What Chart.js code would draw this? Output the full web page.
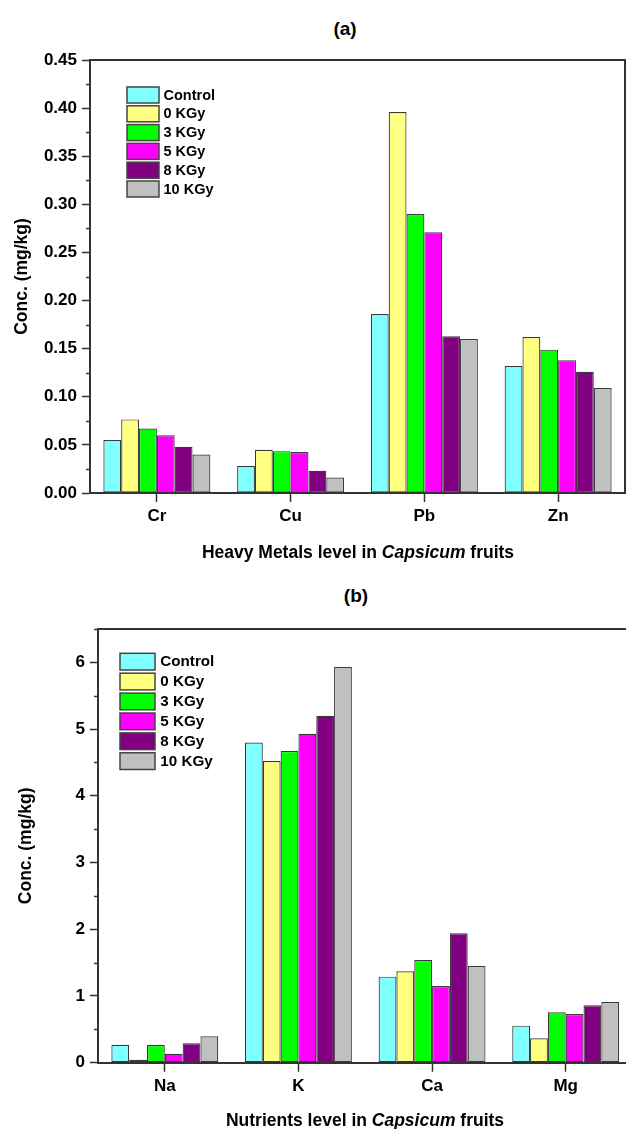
<!DOCTYPE html>
<html>
<head>
<meta charset="utf-8">
<script src="https://cdn.jsdelivr.net/npm/chart.js@4.4.1/dist/chart.umd.min.js"></script>
<style>
  html, body { margin: 0; padding: 0; background: #fff; }
  body { width: 626px; height: 1129px; overflow: hidden; position: relative; font-family: 'Liberation Sans', Arial, sans-serif; }
  canvas { position: absolute; left: 0; }
  .lbl { position: absolute; transform: translate(-50%, -50%); white-space: nowrap; font-weight: bold; color: #000; }
</style>
</head>
<body>
<div class="lbl" style="left:345px; top:29px; font-size:19px;">(a)</div>
<canvas id="ca" width="626" height="570" style="top:0; width:626px; height:570px;"></canvas>
<div class="lbl" style="left:358px; top:552px; font-size:17.5px;">Heavy Metals level in <i>Capsicum</i> fruits</div>
<div class="lbl" style="left:356px; top:596px; font-size:19px;">(b)</div>
<canvas id="cb" width="640" height="569" style="top:560px; width:640px; height:569px;"></canvas>
<div class="lbl" style="left:365px; top:1120px; font-size:17.5px;">Nutrients level in <i>Capsicum</i> fruits</div>
<script>
// ---- data ----
const seriesLabels = ['Control', '0 KGy', '3 KGy', '5 KGy', '8 KGy', '10 KGy'];
const seriesColors = ['#80FFFF', '#FFFF80', '#00FF00', '#FF00FF', '#800080', '#C0C0C0'];

const metalCategories = ['Cr', 'Cu', 'Pb', 'Zn'];
const metalControl = [0.055, 0.028, 0.186, 0.132];
const metal0 = [0.0765, 0.045, 0.396, 0.162];
const metal3 = [0.067, 0.0435, 0.290, 0.149];
const metal5 = [0.060, 0.0425, 0.271, 0.138];
const metal8 = [0.048, 0.023, 0.163, 0.126];
const metal10 = [0.040, 0.016, 0.160, 0.109];

const nutrientCategories = ['Na', 'K', 'Ca', 'Mg'];
const nutControl = [0.27, 4.80, 1.29, 0.555];
const nut0 = [0.045, 4.52, 1.37, 0.365];
const nut3 = [0.265, 4.67, 1.54, 0.755];
const nut5 = [0.135, 4.93, 1.15, 0.73];
const nut8 = [0.29, 5.20, 1.94, 0.86];
const nut10 = [0.395, 5.93, 1.45, 0.91];

const yTicksA = { min: 0, max: 0.45, step: 0.05, decimals: 2 };
const yTicksB = { min: 0, max: 6.5, step: 1, decimals: 0 };

// ---- chart setup ----
Chart.defaults.font.family = "'Liberation Sans', Arial, sans-serif";
Chart.defaults.font.weight = 'bold';
Chart.defaults.color = '#000';

const AXIS = '#333333';

function makeDatasets(arrs) {
  return arrs.map((d, i) => ({
    label: seriesLabels[i],
    data: d,
    backgroundColor: seriesColors[i],
    borderColor: '#3a3a3a',
    borderWidth: 1.2,
    borderSkipped: false,
    barPercentage: 1.0,
    categoryPercentage: 0.8
  }));
}

function framePlugin(cfg) {
  return {
    id: 'frame',
    afterDraw(chart) {
      const ctx = chart.ctx, a = chart.chartArea, ys = chart.scales.y;
      ctx.save();
      // minor ticks
      ctx.strokeStyle = AXIS; ctx.lineWidth = 1.5;
      for (let v = cfg.ticks.min + cfg.ticks.step / 2; v < cfg.ticks.max + 1e-9; v += cfg.ticks.step) {
        const y = Math.round(ys.getPixelForValue(v)) + 0.5;
        ctx.beginPath(); ctx.moveTo(a.left - 4, y); ctx.lineTo(a.left, y); ctx.stroke();
      }
      // top / right frame
      ctx.lineWidth = 2;
      ctx.beginPath();
      ctx.moveTo(a.left - 1, a.top); ctx.lineTo(a.right, a.top);
      if (cfg.right) ctx.lineTo(a.right, a.bottom);
      ctx.stroke();
      // legend
      const L = cfg.legend;
      chart.data.datasets.forEach((ds, i) => {
        const x = a.left + L.dx, y = a.top + L.dy + i * L.pitch;
        ctx.fillStyle = ds.backgroundColor;
        ctx.fillRect(x, y, L.w, L.h);
        ctx.strokeStyle = '#444'; ctx.lineWidth = 1.5;
        ctx.strokeRect(x, y, L.w, L.h);
        ctx.fillStyle = '#000';
        ctx.font = 'bold ' + L.font + "px 'Liberation Sans', Arial, sans-serif";
        ctx.textBaseline = 'middle'; ctx.textAlign = 'left';
        ctx.fillText(ds.label, x + L.w + L.gap, y + L.h / 2 + 0.5);
      });
      ctx.restore();
    }
  };
}

function makeChart(id, cats, arrs, cfg) {
  return new Chart(document.getElementById(id), {
    type: 'bar',
    data: { labels: cats, datasets: makeDatasets(arrs) },
    options: {
      responsive: false,
      animation: false,
      devicePixelRatio: 1,
      layout: { padding: { top: cfg.padTop, right: cfg.padRight, left: 0, bottom: 0 } },
      plugins: { legend: { display: false }, tooltip: { enabled: false } },
      scales: {
        x: {
          type: 'category',
          offset: true,
          grid: { display: true, drawOnChartArea: false, offset: false, tickLength: 9, tickWidth: 1.5, tickColor: AXIS },
          border: { display: true, color: AXIS, width: 2 },
          ticks: { font: { size: 17, weight: 'bold' }, padding: 4, color: '#000', maxRotation: 0, autoSkip: false },
          afterFit(s) { s.height = cfg.xHeight; }
        },
        y: {
          min: cfg.ticks.min,
          max: cfg.ticks.max,
          grid: { display: true, drawOnChartArea: false, tickLength: 8, tickWidth: 1.5, tickColor: AXIS },
          border: { display: true, color: AXIS, width: 2 },
          ticks: {
            stepSize: cfg.ticks.step,
            autoSkip: false,
            padding: 5,
            font: { size: 17, weight: 'bold' },
            color: '#000',
            callback: (v) => Number(v).toFixed(cfg.ticks.decimals)
          },
          afterBuildTicks(s) {
            const st = cfg.ticks.step;
            s.ticks = s.ticks.filter(t => Math.abs(t.value / st - Math.round(t.value / st)) < 1e-6);
          },
          title: { display: true, text: 'Conc. (mg/kg)', font: { size: 17.5, weight: 'bold' }, color: '#000', padding: { top: cfg.titlePad, bottom: 0 } },
          afterFit(s) { s.width = cfg.yWidth; }
        }
      }
    },
    plugins: [framePlugin(cfg)]
  });
}

makeChart('ca', metalCategories, [metalControl, metal0, metal3, metal5, metal8, metal10], {
  padTop: 60, padRight: 1, xHeight: 77, yWidth: 90, titlePad: 11.5, right: true,
  ticks: yTicksA,
  legend: { dx: 37, dy: 27, pitch: 18.8, w: 32, h: 16, gap: 4.5, font: 14.5 }
});

makeChart('cb', nutrientCategories, [nutControl, nut0, nut3, nut5, nut8, nut10], {
  padTop: 69, padRight: 7.5, xHeight: 66.3, yWidth: 98, titlePad: 16, right: true,
  ticks: yTicksB,
  legend: { dx: 22, dy: 24.3, pitch: 19.9, w: 35, h: 16.7, gap: 5.3, font: 15.2 }
});
</script>
</body>
</html>
